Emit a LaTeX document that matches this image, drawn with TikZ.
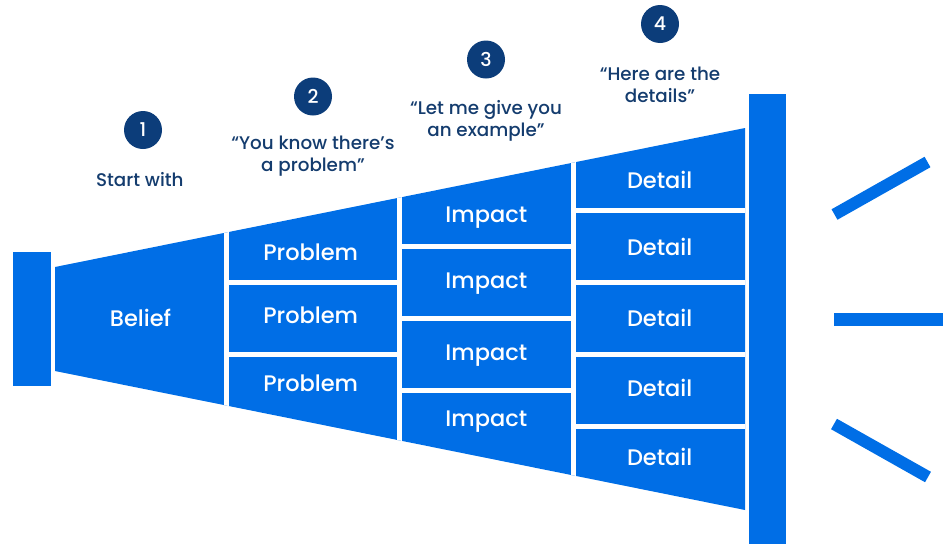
\documentclass[tikz,border=0pt]{standalone}
\usepackage{fontspec}
\setmainfont{Poppins Medium}
\usepackage{xcolor}
\definecolor{funnelblue}{HTML}{006EE6}
\definecolor{badgenavy}{HTML}{0C3D7A}
\definecolor{textnavy}{HTML}{143C6E}
\tikzset{>=latex}

\begin{document}
\begin{tikzpicture}[x=1pt, y=-1pt]
\tikzset{cell/.style={anchor=base, text=white, font=\fontsize{22.5}{27}\selectfont}}
\tikzset{badge/.style={circle, fill=badgenavy, minimum size=38pt, inner sep=0pt, text=white, font=\fontsize{19}{20}\selectfont}}
\tikzset{quote/.style={text=textnavy, align=center, font=\fontsize{18.3}{21.8}\selectfont}}
\tikzset{gap/.style={white, line width=4.5pt}}
\tikzset{ray/.style={funnelblue, line width=12pt}}
    \useasboundingbox (0,0) rectangle (945,544);

    \coordinate (TL) at (55,267);
    \coordinate (TR) at (745,128);
    \coordinate (BR) at (745,510);
    \coordinate (BL) at (55,371);

    \fill[funnelblue] (13,252) rectangle (51,386);
    \fill[funnelblue] (749,94) rectangle (786,544);

    \begin{scope}
    \clip (TL) -- (TR) -- (BR) -- (BL) -- cycle;
    \fill[funnelblue] (TL) -- (TR) -- (BR) -- (BL) -- cycle;
    \foreach \x in {226.5,399.5,573.5}
        \draw[gap] (\x,100) -- (\x,540);
    \foreach \y in {282.5,354.5}
        \draw[gap] (226,\y) -- (400,\y);
    \foreach \y in {246.5,318.5,390.5}
        \draw[gap] (399,\y) -- (574,\y);
    \foreach \y in {210.5,282.5,354.5,426.5}
        \draw[gap] (573,\y) -- (746,\y);
    \end{scope}
% % % % % % % % % % % % % % % % % % %
    \coordinate (R1a) at (834.5,214.5);
    \coordinate (R1b) at (927.5,162);
    \coordinate (R2a) at (834,319.5);
    \coordinate (R2b) at (943,319.5);
    \coordinate (R3a) at (834,424);
    \coordinate (R3b) at (928,477);

    \draw[ray] (R1a) -- (R1b);
    \draw[ray, line width=13pt] (R2a) -- (R2b);
    \draw[ray] (R3a) -- (R3b);
% % % % % % % % % % % % % % % % % % %
    \node[cell] (belief) at (140.5,326.5) {Belief};

    \node[cell] (prob1) at (310.7,260) {Problem};
    \node[cell] (prob2) at (310.7,323.3) {Problem};
    \node[cell] (prob3) at (310.7,391.7) {Problem};

    \node[cell] (imp1) at (486.3,222) {Impact};
    \node[cell] (imp2) at (486.3,288) {Impact};
    \node[cell] (imp3) at (486.3,360) {Impact};
    \node[cell] (imp4) at (486.3,426.7) {Impact};

    \node[cell] (det1) at (659.7,188.3) {Detail};
    \node[cell] (det2) at (659.7,255) {Detail};
    \node[cell] (det3) at (659.7,326.7) {Detail};
    \node[cell] (det4) at (659.7,396.7) {Detail};
    \node[cell] (det5) at (659.7,465) {Detail};
% % % % % % % % % % % % % % % % % % %
    \node[badge] (b1) at (143,130) {1};
    \node[badge] (b2) at (313,96.5) {2};
    \node[badge] (b3) at (486,59.5) {3};
    \node[badge] (b4) at (660,24) {4};

    \node[quote, anchor=base] (q1) at (139.8,186) {Start with};
    \node[quote] (q2) at (313,156.5) {“You know there’s\\a problem”};
    \node[quote] (q3) at (486,120.5) {“Let me give you\\an example”};
    \node[quote] (q4) at (660,85) {“Here are the\\details”};
\end{tikzpicture}
\end{document}
